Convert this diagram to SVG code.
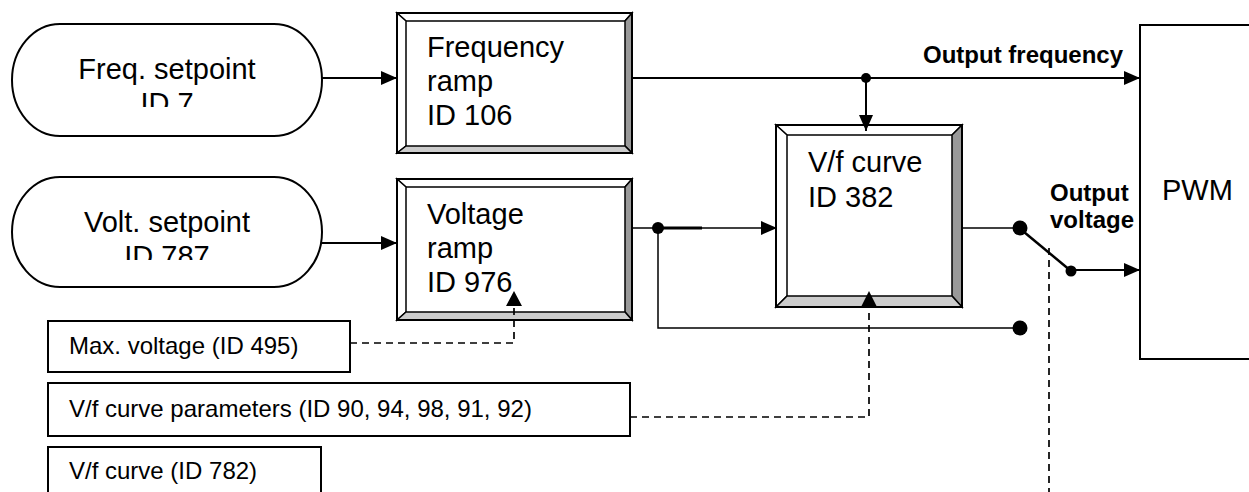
<svg xmlns="http://www.w3.org/2000/svg" width="1249" height="492" viewBox="0 0 1249 492">
<style>
text{font-family:"Liberation Sans",Arial,sans-serif;fill:#000}
.big{font-size:29px}
.small{font-size:24px}
.lbl{font-size:24px;font-weight:bold}
.ln{fill:none;stroke:#000;stroke-width:2}
.thin{fill:none;stroke:#000;stroke-width:1.5}
.dash{fill:none;stroke:#000;stroke-width:1.7;stroke-dasharray:7,5}
.box{fill:#fff;stroke:#000;stroke-width:2}
.bv{stroke:#000;stroke-width:1.5;stroke-linejoin:miter}
.hl{fill:#fff}
.dk{fill:#999}
.lt{fill:#ccc}
</style>
<defs>
<marker id="ah" viewBox="0 0 16 14" refX="16" refY="7" markerWidth="16" markerHeight="14" markerUnits="userSpaceOnUse" orient="auto">
<path d="M0,0 L16,7 L0,14 Z" fill="#000"/>
</marker>
<clipPath id="c1"><rect x="0" y="0" width="400" height="107"/></clipPath>
<clipPath id="c2"><rect x="0" y="160" width="400" height="100"/></clipPath>
</defs>

<g id="freq-setpoint">
<rect x="12" y="24" width="310" height="112" rx="48" ry="56" class="box"/>
<g clip-path="url(#c1)">
<text class="big" x="167" y="79" text-anchor="middle">Freq. setpoint</text>
<text class="big" x="167" y="113" text-anchor="middle">ID 7</text>
</g>
</g>

<g id="volt-setpoint">
<rect x="12" y="177" width="310" height="110" rx="48" ry="55" class="box"/>
<g clip-path="url(#c2)">
<text class="big" x="167" y="232" text-anchor="middle">Volt. setpoint</text>
<text class="big" x="167" y="266" text-anchor="middle">ID 787</text>
</g>
</g>

<g id="frequency-ramp">
<rect x="397" y="13" width="235" height="140" class="box"/>
<polygon class="bv hl" points="397,13 632,13 625,21 406,21"/>
<polygon class="bv hl" points="397,13 406,21 406,146 397,153"/>
<polygon class="bv dk" points="632,13 632,153 625,146 625,21"/>
<polygon class="bv lt" points="397,153 406,146 625,146 632,153"/>
<rect x="397" y="13" width="235" height="140" fill="none" stroke="#000" stroke-width="2"/>
<text class="big" x="427" y="57">Frequency</text>
<text class="big" x="427" y="91">ramp</text>
<text class="big" x="427" y="125">ID 106</text>
</g>

<g id="voltage-ramp">
<rect x="397" y="179" width="235" height="141" class="box"/>
<polygon class="bv hl" points="397,179 632,179 625,187 406,187"/>
<polygon class="bv hl" points="397,179 406,187 406,312 397,320"/>
<polygon class="bv dk" points="632,179 632,320 625,312 625,187"/>
<polygon class="bv lt" points="397,320 406,312 625,312 632,320"/>
<rect x="397" y="179" width="235" height="141" fill="none" stroke="#000" stroke-width="2"/>
<text class="big" x="427" y="224">Voltage</text>
<text class="big" x="427" y="258">ramp</text>
<text class="big" x="427" y="292">ID 976</text>
</g>

<g id="vf-curve">
<rect x="776" y="125" width="186" height="182" class="box"/>
<polygon class="bv hl" points="776,125 962,125 952,135 787,135"/>
<polygon class="bv hl" points="776,125 787,135 787,296 776,307"/>
<polygon class="bv dk" points="962,125 962,307 952,296 952,135"/>
<polygon class="bv lt" points="776,307 787,296 952,296 962,307"/>
<rect x="776" y="125" width="186" height="182" fill="none" stroke="#000" stroke-width="2"/>
<text class="big" x="808" y="172">V/f curve</text>
<text class="big" x="808" y="207">ID 382</text>
</g>

<g id="pwm">
<rect x="1140" y="25" width="120" height="334" class="box"/>
<text class="big" x="1162" y="200">PWM</text>
</g>

<g id="max-voltage">
<rect x="48" y="321" width="302" height="51" class="box"/>
<text class="small" x="69" y="354">Max. voltage (ID 495)</text>
</g>

<g id="vf-params">
<rect x="48" y="383" width="582" height="53" class="box"/>
<text class="small" x="69" y="417">V/f curve parameters (ID 90, 94, 98, 91, 92)</text>
</g>

<g id="vf-curve-782">
<rect x="48" y="447" width="273" height="60" class="box"/>
<text class="small" x="69" y="479">V/f curve (ID 782)</text>
</g>

<g id="connectors">
<path class="ln" d="M322,78 H397" marker-end="url(#ah)"/>
<path class="ln" d="M322,243 H397" marker-end="url(#ah)"/>
<path class="ln" d="M632,78 H1140" marker-end="url(#ah)"/>
<path class="ln" d="M866,78 V131" marker-end="url(#ah)"/>
<path class="thin" d="M632,228 H777" marker-end="url(#ah)"/>
<path d="M658,228 H702" stroke="#000" stroke-width="3" fill="none"/>
<path class="thin" d="M658,228 V328 H1020"/>
<path class="thin" d="M962,228 H1020"/>
<path d="M1024,232 L1071,271" stroke="#000" stroke-width="2.5" fill="none"/>
<path class="ln" d="M1071,270 H1140" marker-end="url(#ah)"/>
<path class="dash" d="M350,343 H514 V306"/>
<path d="M506,306 L514,291 L522,306 Z" fill="#000"/>
<path class="dash" d="M630,417 H869 V307"/>
<path d="M861,307 L869,291 L877,307 Z" fill="#000"/>
<path class="dash" d="M1049,248 V492"/>
<circle cx="866" cy="78" r="5"/>
<circle cx="658" cy="228" r="6"/>
<circle cx="1020" cy="228" r="7.5"/>
<circle cx="1020" cy="328" r="7.5"/>
<circle cx="1071" cy="271" r="5.5"/>
<text class="lbl" x="923" y="63">Output frequency</text>
<text class="lbl" x="1050" y="201">Output</text>
<text class="lbl" x="1050" y="228">voltage</text>
</g>
</svg>
